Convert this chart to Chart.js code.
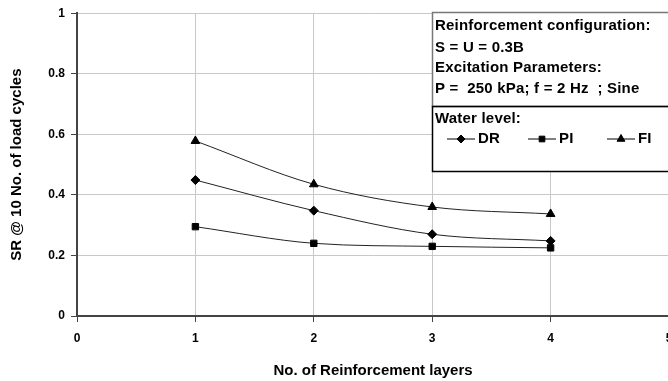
<!DOCTYPE html>
<html>
<head>
<meta charset="utf-8">
<script src="https://cdn.jsdelivr.net/npm/chart.js@4"></script>
<style>
  html, body { margin: 0; padding: 0; background: #fff; overflow: hidden; }
  #wrap { width: 700px; height: 381px; }
</style>
</head>
<body>
<div id="wrap"><canvas id="c" width="700" height="381"></canvas></div>
<script>
const layers = [1, 2, 3, 4];
const drValues = [0.449, 0.348, 0.270, 0.248];
const piValues = [0.295, 0.240, 0.230, 0.225];
const fiValues = [0.578, 0.435, 0.360, 0.337];
const seriesNames = ["DR", "PI", "FI"];
const yTicks = [0, 0.2, 0.4, 0.6, 0.8, 1];
const infoLines = [
  "Reinforcement configuration:",
  "S = U = 0.3B",
  "Excitation Parameters:",
  "P =  250 kPa; f = 2 Hz  ; Sine"
];
const legendTitle = "Water level:";

const fam = "'Liberation Sans', Arial, sans-serif";
const tickFont = { family: fam, size: 12, weight: "bold" };
const titleFont = { family: fam, size: 15, weight: "bold" };
const boxFont = "bold 15px " + fam;

function series(label, values, style, radius) {
  return {
    label,
    data: layers.map((x, i) => ({ x, y: values[i] })),
    borderColor: "#222",
    borderWidth: 1,
    backgroundColor: "#000",
    pointBackgroundColor: "#000",
    pointBorderColor: "#000",
    pointStyle: style,
    pointRadius: radius,
    tension: 0.4,
    cubicInterpolationMode: "monotone"
  };
}

const infoBox = {
  id: "infoBox",
  afterDraw(chart) {
    const ctx = chart.ctx;
    const left = 432, top = 12, mid = 106, bottom = 171, right = 700;
    ctx.save();
    ctx.fillStyle = "#fff";
    ctx.fillRect(left, top, right - left, bottom - top);
    ctx.lineWidth = 1.5;
    ctx.strokeStyle = "#777";
    ctx.strokeRect(left + 0.5, top + 0.5, right - left, mid - top);
    ctx.strokeStyle = "#000";
    ctx.strokeRect(left + 0.5, mid + 0.5, right - left, bottom - mid);

    ctx.fillStyle = "#000";
    ctx.font = boxFont;
    ctx.letterSpacing = "0.2px";
    ctx.textBaseline = "middle";
    const ys = [26, 48, 68, 89];
    infoLines.forEach((t, i) => ctx.fillText(t, left + 3, ys[i]));
    ctx.fillText(legendTitle, left + 3, 119);

    const items = chart.data.datasets;
    const starts = [447, 528, 607];
    items.forEach((ds, i) => {
      const x0 = starts[i], y = 139;
      ctx.strokeStyle = "#000";
      ctx.lineWidth = 1;
      ctx.beginPath();
      ctx.moveTo(x0, y);
      ctx.lineTo(x0 + 28, y);
      ctx.stroke();
      Chart.helpers.drawPoint(ctx, {
        pointStyle: ds.pointStyle, radius: ds.pointRadius - 0.5, borderWidth: 1
      }, x0 + 14, y);
      ctx.fillStyle = "#000";
      ctx.fillText(seriesNames[i], x0 + 31, y);
    });
    ctx.restore();
  }
};

function draw() {
  new Chart(document.getElementById("c"), {
    type: "line",
    data: {
      datasets: [
        series("DR", drValues, "rectRot", 4.5),
        series("PI", piValues, "rect", 4.5),
        series("FI", fiValues, "triangle", 5)
      ]
    },
    options: {
      responsive: false,
      animation: false,
      layout: { padding: { top: 13, right: 31, left: 0, bottom: 0 } },
      plugins: { legend: { display: false }, tooltip: { enabled: false } },
      scales: {
        x: {
          type: "linear",
          min: 0,
          max: 5,
          afterFit: s => { s.height = 65; },
          ticks: { stepSize: 1, color: "#000", font: tickFont, padding: 9, maxRotation: 0 },
          grid: { color: "#c8c8c8", tickColor: "#444", tickLength: 6, lineWidth: 1 },
          border: { color: "#444", width: 2 },
          title: { display: true, text: "No. of Reinforcement layers", color: "#000", font: titleFont, padding: { top: 0, bottom: 1 } }
        },
        y: {
          min: 0,
          max: 1,
          afterFit: s => { s.width = 77; },
          afterBuildTicks: s => { s.ticks = yTicks.map(v => ({ value: v })); },
          ticks: { color: "#000", font: tickFont, padding: 6, callback: v => String(v) },
          grid: { color: "#c8c8c8", tickColor: "#444", tickLength: 6, lineWidth: 1 },
          border: { color: "#444", width: 2 },
          title: { display: true, text: "SR @ 10 No. of load cycles", color: "#000", font: titleFont, padding: { top: 8, bottom: 0 } }
        }
      }
    },
    plugins: [infoBox]
  });
}

Promise.all([
  document.fonts.load("bold 12px 'Liberation Sans'"),
  document.fonts.load("bold 15px 'Liberation Sans'")
]).then(draw, draw);
</script>
</body>
</html>
